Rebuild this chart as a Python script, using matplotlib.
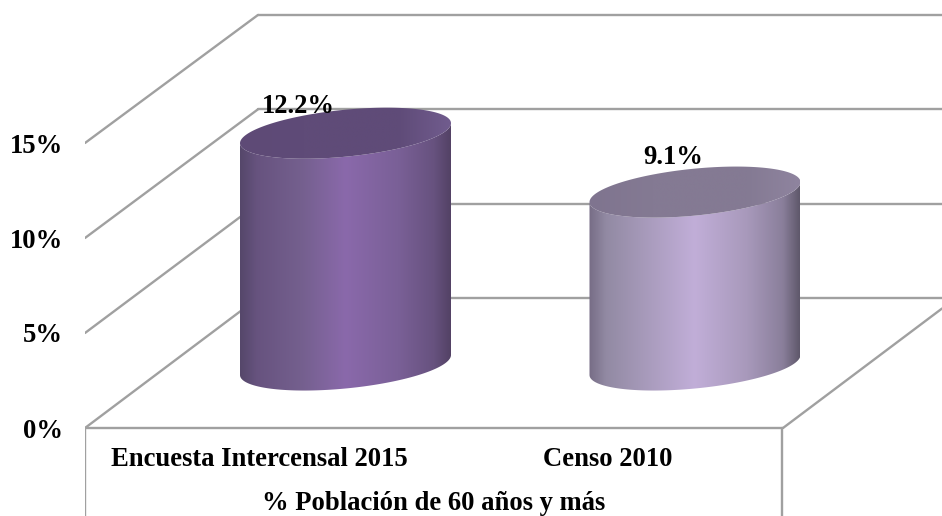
import numpy as np
import matplotlib
matplotlib.use("Agg")
import matplotlib.pyplot as plt
from matplotlib.colors import LinearSegmentedColormap
from matplotlib.patches import Polygon

categories = ["Encuesta Intercensal 2015", "Censo 2010"]
values = [12.2, 9.1]
value_labels = ["12.2%", "9.1%"]
y_ticks = [0, 5, 10, 15]
y_tick_labels = ["0%", "5%", "10%", "15%"]
axis_title = "% Población de 60 años y más"

W, H = 942, 516
PX = 19.0                # pixels per percentage point
FRONT = 428              # pixel row of the 0% front edge
LEFT, BACK_X, RIGHT_FRONT = 85, 258, 783
BACK_DY = 130 / PX
BACK_SCALE = 18.87 / PX
BASE = 63 / PX           # floor level of the cylinder base centres
bar_centers = [345.5, 695.0]
bar_half = 105.5
tilt = 10 / PX
minor = 23.5 / PX
cat_x = [259, 608]
label_pos = [(298, 106), (673, 157)]
GRID = "#a0a0a0"
side_stops = [
    ["#55476a", "#67537f", "#75608f", "#8a69ab", "#7a6097", "#67527f", "#534265"],
    ["#776d86", "#928aa3", "#ab9dbf", "#c1aed8", "#a899bb", "#8a7f9b", "#5f586b"],
]
top_stops = [
    ["#5e4a76", "#5f4b78", "#5f4b78", "#715c8e"],
    ["#7f748f", "#847a93", "#847a93", "#8f849f"],
]
stop_at = [0, .08, .3, .5, .75, .92, 1]
font = {"family": ["Liberation Serif", "DejaVu Serif"], "weight": "bold", "color": "black"}
FS = 19.2


def to_val(p):
    return (FRONT - p) / PX


fig = plt.figure(figsize=(W / 100, H / 100), dpi=100)
ax = fig.add_axes([LEFT / W, 0, (W - LEFT) / W, 1])
ax.set_xlim(LEFT, W)
ax.set_ylim(to_val(H), to_val(0))
for s in ax.spines.values():
    s.set_visible(False)
ax.set_xticks([])
ax.set_yticks(y_ticks)
ax.set_yticklabels(y_tick_labels, **font, fontsize=FS)
ax.tick_params(axis="y", length=0, pad=16)
ax.patch.set_alpha(0)

line = dict(color=GRID, lw=1.7, zorder=1, solid_capstyle="round")
for t in y_ticks:
    yb = t * BACK_SCALE + BACK_DY
    ax.plot([LEFT, BACK_X], [t, yb], **line)
    ax.plot([BACK_X, W], [yb, yb], **line)
ax.plot([LEFT, RIGHT_FRONT], [0, 0], **line)
ax.plot([RIGHT_FRONT, W], [0, (W - RIGHT_FRONT) * 130 / 173 / PX], **line)
ax.plot([LEFT, LEFT], [0, to_val(H)], **line)
ax.plot([RIGHT_FRONT - 1, RIGHT_FRONT - 1], [0, to_val(H)], **line)


def ellipse(cx, cy, t):
    return cx + bar_half * np.cos(t), cy + minor * np.sin(t) + tilt * np.cos(t)


def gradient(cx, y0, y1, clip, colors, stops, z):
    cmap = LinearSegmentedColormap.from_list("g", list(zip(stops, colors)))
    img = np.linspace(0, 1, 256).reshape(1, -1)
    im = ax.imshow(img, cmap=cmap, extent=(cx - bar_half, cx + bar_half, y0, y1),
                   aspect="auto", origin="lower", zorder=z, interpolation="bilinear")
    patch = Polygon(clip, closed=True, transform=ax.transData, fc="none", ec="none")
    ax.add_patch(patch)
    im.set_clip_path(patch)


for i, v in enumerate(values):
    cx = bar_centers[i]
    ytop = BASE + v
    tl = np.linspace(np.pi, 2 * np.pi, 120)
    xb, yb = ellipse(cx, BASE, tl)
    xt, yt = ellipse(cx, ytop, tl)
    side = np.vstack([np.column_stack([xb, yb]), np.column_stack([xt, yt])[::-1]])
    gradient(cx, BASE - 2, ytop + 2, side, side_stops[i], stop_at, 3 + i)
    ta = np.linspace(0, 2 * np.pi, 240)
    xe, ye = ellipse(cx, ytop, ta)
    gradient(cx, ytop - 2, ytop + 2, np.column_stack([xe, ye]), top_stops[i],
             [0, .3, .75, 1], 3.5 + i)
    lx, ly = label_pos[i]
    ax.text(lx, to_val(ly), value_labels[i], ha="center", va="center",
            fontsize=FS, zorder=6, **font)
    ax.text(cat_x[i], to_val(459), categories[i], ha="center", va="center",
            fontsize=FS, zorder=6, **font)

ax.text(434, to_val(504), axis_title, ha="center", va="center", fontsize=FS, zorder=6, **font)
ax.set_xlim(LEFT, W)
ax.set_ylim(to_val(H), to_val(0))
fig.savefig("out.png", dpi=100, facecolor="white")
